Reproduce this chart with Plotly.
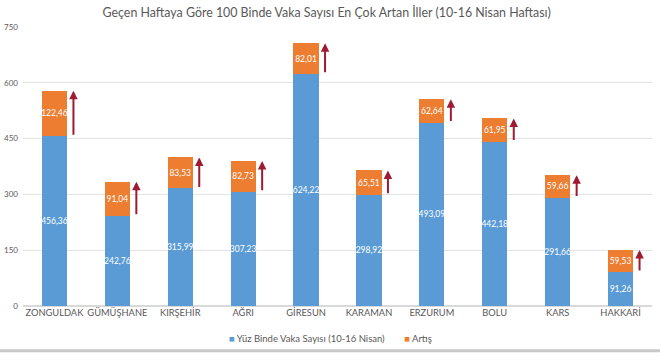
import plotly.graph_objects as go

categories = ["ZONGULDAK", "GÜMÜŞHANE", "KIRŞEHİR", "AĞRI", "GİRESUN",
              "KARAMAN", "ERZURUM", "BOLU", "KARS", "HAKKARİ"]
vaka = [456.36, 242.76, 315.99, 307.23, 624.22, 298.92, 493.09, 442.18, 291.66, 91.26]
artis = [122.46, 91.04, 83.53, 82.73, 82.01, 65.51, 62.64, 61.95, 59.66, 59.53]
y_ticks = [0, 150, 300, 450, 600, 750]
series_names = ["Yüz Binde Vaka Sayısı (10-16 Nisan)", "Artış"]

FONT = "Lato, 'Open Sans', sans-serif"
BLUE = "#5b9bd5"
ORANGE = "#ed7d31"
ARROW = "#9e1b32"
GREY = "#595959"

fig = go.Figure()
for vals, name, col in [(vaka, series_names[0], BLUE), (artis, series_names[1], ORANGE)]:
    fig.add_trace(go.Bar(
        x=categories, y=vals, name=name,
        marker=dict(color=col, line=dict(width=0)), texttemplate="%{y:.2f}",
        textposition="inside", insidetextanchor="middle", textangle=0,
        textfont=dict(color="white", size=8.5, family=FONT),
        showlegend=False,
    ))

for c, v, a in zip(categories, vaka, artis):
    fig.add_annotation(
        x=c, y=v + a, ax=0, ay=v, axref="pixel", ayref="y",
        xref="x", yref="y", xshift=19, text="", showarrow=True,
        arrowhead=2, arrowsize=0.85, arrowwidth=2, arrowcolor=ARROW,
        standoff=0, startstandoff=0,
    )

# legend as text
legend_text = (f"<span style='color:{BLUE}'>■</span> {series_names[0]}"
               f"        <span style='color:{ORANGE}'>■</span> {series_names[1]}")
fig.add_annotation(xref="paper", yref="paper", x=0.489, y=-0.117,
                   xanchor="center", yanchor="middle", showarrow=False,
                   text=legend_text, font=dict(size=9.5, color=GREY, family=FONT))

fig.add_shape(type="line", xref="paper", yref="paper",
              x0=-0.1, x1=1.1, y0=-0.160, y1=-0.160,
              line=dict(color="#c8c8c8", width=3))

fig.update_layout(
    width=660, height=360,
    barmode="stack", bargap=0.6,
    separators=",.",
    uniformtext=dict(minsize=8.5, mode="show"),
    paper_bgcolor="white", plot_bgcolor="white",
    margin=dict(l=23, r=8, t=27, b=54, autoexpand=False),
    font=dict(family=FONT, color=GREY),
    title=dict(text="Geçen Haftaya Göre 100 Binde Vaka Sayısı En Çok Artan İller (10-16 Nisan Haftası)",
               x=0.495, xref="container", xanchor="center", y=0.964, yanchor="middle",
               font=dict(size=12.4, color=GREY, family=FONT)),
    xaxis=dict(showgrid=False, showline=False, ticks="", tickangle=0,
               automargin=False,
               tickfont=dict(size=9.3, color=GREY, family=FONT)),
    yaxis=dict(range=[0, 750], tickvals=y_ticks, showgrid=True,
               gridcolor="#e3e3e3", gridwidth=1, zeroline=True,
               zerolinecolor="#d9d9d9", showline=False, ticks="",
               automargin=False, ticklabelstandoff=4,
               tickfont=dict(size=8, color=GREY, family=FONT)),
    showlegend=False,
)

fig.write_html("out.html", config={"displayModeBar": False},
               post_script="document.body.style.margin='0';document.body.style.overflow='hidden';")
